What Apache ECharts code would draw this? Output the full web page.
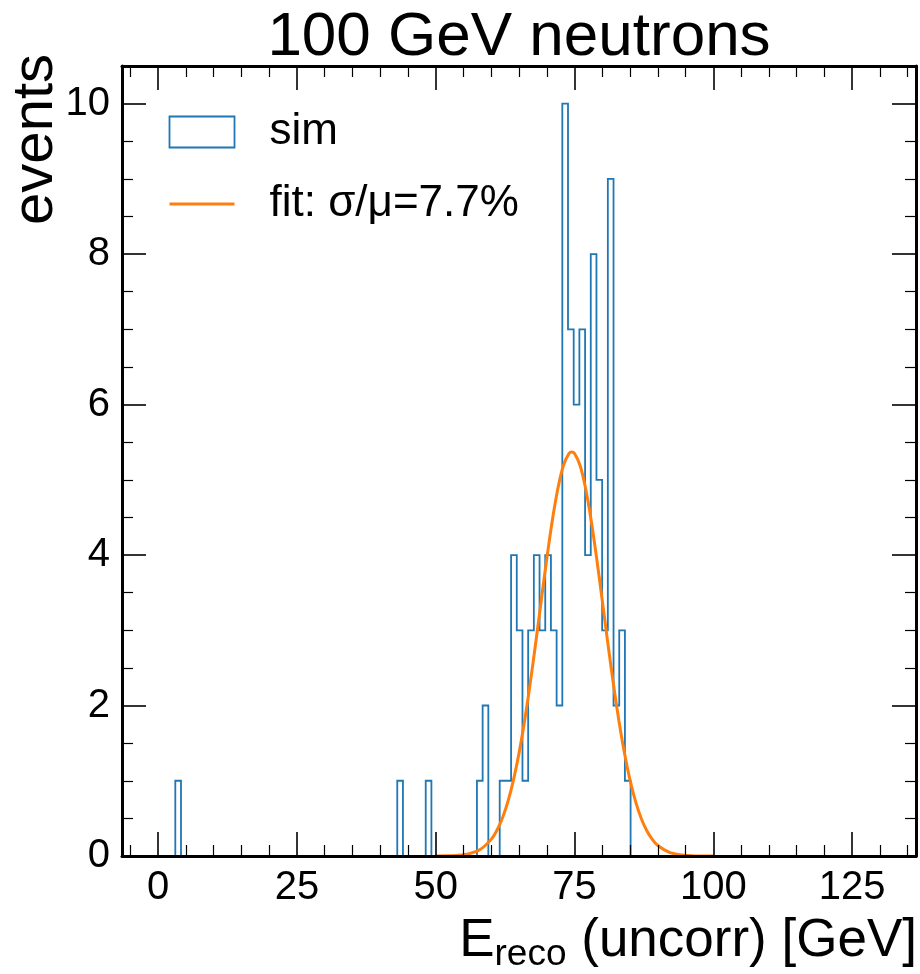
<!DOCTYPE html>
<html>
<head>
<meta charset="utf-8">
<script src="https://cdn.jsdelivr.net/npm/echarts@6/dist/echarts.min.js"></script>
<style>
  html, body { margin: 0; padding: 0; background: #fff; }
  #chart { width: 920px; height: 974px; }
</style>
</head>
<body>
<div id="chart"></div>
<script>
// ---- histogram of reconstructed energy (80 equal-width bins) ----
const binStart = 3.1;
const binWidth = 1.025;
const counts = [
  1, 0, 0, 0, 0, 0, 0, 0, 0, 0,
  0, 0, 0, 0, 0, 0, 0, 0, 0, 0,
  0, 0, 0, 0, 0, 0, 0, 0, 0, 0,
  0, 0, 0, 0, 0, 0, 0, 0, 0, 1,
  0, 0, 0, 0, 1, 0, 0, 0, 0, 0,
  0, 0, 0, 1, 2, 0, 0, 1, 1, 4,
  3, 1, 3, 4, 3, 4, 3, 2, 10, 7,
  6, 7, 4, 8, 5, 3, 9, 2, 3, 1
];

// ---- gaussian fit curve, sampled ----
const fitX = [50, 52, 54, 56, 58, 60, 61, 62, 63, 64, 65, 66, 67, 68, 69, 70, 71, 72, 73, 74, 74.5,
              75, 76, 77, 78, 79, 80, 81, 82, 83, 84, 85, 86, 87, 88, 89, 90, 92, 94, 96, 98, 100];
const fitY = [0.000, 0.002, 0.009, 0.030, 0.086, 0.221, 0.338, 0.502, 0.722, 1.008, 1.365, 1.794, 2.287,
              2.828, 3.393, 3.949, 4.459, 4.884, 5.190, 5.350, 5.370,
              5.350, 5.190, 4.884, 4.459, 3.949, 3.393, 2.828, 2.287, 1.794, 1.365, 1.008, 0.722, 0.502,
              0.338, 0.221, 0.140, 0.052, 0.017, 0.005, 0.001, 0.000];

// ---- axes ----
const xRange = [-6.5, 136.5];
const yRange = [0, 10.5];
const xMajorTicks = [0, 25, 50, 75, 100, 125];
const yMajorTicks = [0, 2, 4, 6, 8, 10];
const xMinorStep = 5;
const yMinorStep = 0.5;

const titleText = '100 GeV neutrons';
const yLabelText = 'events';
const legendNames = ['sim', 'fit: σ/μ=7.7%'];

const FONT = '"Liberation Sans", Arial, Helvetica, sans-serif';
const BLUE = '#1f77b4';
const ORANGE = '#ff7f0e';

// minor tick positions between the labelled ones
function minorValues(range, step, majors) {
  const out = [];
  const start = Math.ceil(range[0] / step) * step;
  for (let v = start; v <= range[1] + 1e-9; v += step) {
    const r = Math.round(v * 1000) / 1000;
    if (!majors.some(m => Math.abs(m - r) < 1e-6)) out.push(r);
  }
  return out;
}
const xMinorTicks = minorValues(xRange, xMinorStep, xMajorTicks);
const yMinorTicks = minorValues(yRange, yMinorStep, yMajorTicks);

// step outline of the histogram (matplotlib "step" style)
const histPath = [];
histPath.push([binStart, 0]);
counts.forEach((c, i) => {
  const lo = binStart + i * binWidth;
  const hi = binStart + (i + 1) * binWidth;
  histPath.push([lo, c]);
  histPath.push([hi, c]);
});
histPath.push([binStart + counts.length * binWidth, 0]);

const fitData = fitX.map((x, i) => [x, fitY[i]]);

function makeAxis(position, range, ticks, tickLen, withLine, withLabels) {
  return {
    type: 'value',
    position: position,
    min: range[0],
    max: range[1],
    z: 10,
    axisLine: { show: withLine, onZero: false, lineStyle: { color: '#000', width: 3 } },
    axisTick: {
      show: true, inside: true, length: tickLen,
      customValues: ticks,
      lineStyle: { color: '#000', width: tickLen > 15 ? 1.6 : 1.2 }
    },
    axisLabel: withLabels ? {
      show: true, customValues: ticks, color: '#000',
      fontFamily: FONT, fontSize: 40, margin: 12
    } : { show: false },
    splitLine: { show: false },
    minorTick: { show: false }
  };
}

const chart = echarts.init(document.getElementById('chart'), null, { renderer: 'canvas' });

chart.setOption({
  backgroundColor: '#fff',
  animation: false,
  grid: { left: 122, right: 4, top: 66, bottom: 118 },
  xAxis: [
    makeAxis('bottom', xRange, xMajorTicks, 24, true, true),
    makeAxis('bottom', xRange, xMinorTicks, 11, false, false),
    makeAxis('top', xRange, xMajorTicks, 24, true, false),
    makeAxis('top', xRange, xMinorTicks, 11, false, false)
  ],
  yAxis: [
    makeAxis('left', yRange, yMajorTicks, 24, true, true),
    makeAxis('left', yRange, yMinorTicks, 11, false, false),
    makeAxis('right', yRange, yMajorTicks, 24, true, false),
    makeAxis('right', yRange, yMinorTicks, 11, false, false)
  ],
  legend: {
    orient: 'vertical',
    left: 168,
    top: 108,
    padding: 0,
    itemWidth: 65,
    itemHeight: 31,
    itemGap: 24,
    textStyle: { fontFamily: FONT, fontSize: 44, color: '#000', lineHeight: 48, padding: [0, 0, 0, 30] },
    data: [
      { name: legendNames[0], icon: 'rect',
        itemStyle: { color: 'rgba(255,255,255,0)', borderColor: BLUE, borderWidth: 1.8 } },
      { name: legendNames[1],
        itemStyle: { opacity: 0 },
        lineStyle: { color: ORANGE, width: 3 } }
    ]
  },
  series: [
    {
      name: legendNames[0],
      type: 'line',
      xAxisIndex: 0, yAxisIndex: 0,
      data: histPath,
      symbol: 'none',
      lineStyle: { color: BLUE, width: 1.8, join: 'miter' },
      itemStyle: { color: BLUE },
      clip: true,
      z: 2
    },
    {
      name: legendNames[1],
      type: 'line',
      xAxisIndex: 0, yAxisIndex: 0,
      data: fitData,
      smooth: 0.3,
      symbol: 'none',
      lineStyle: { color: ORANGE, width: 3 },
      itemStyle: { color: ORANGE },
      clip: true,
      z: 3
    }
  ],
  graphic: [
    {
      type: 'text', x: 519, y: 38,
      style: { text: titleText, fontFamily: FONT, fontSize: 62, fill: '#000', align: 'center', verticalAlign: 'middle' }
    },
    {
      type: 'text', x: 36, y: 54, rotation: Math.PI / 2,
      style: { text: yLabelText, fontFamily: FONT, fontSize: 58, fill: '#000', align: 'right', verticalAlign: 'middle' }
    },
    {
      type: 'text', x: 917, y: 973,
      style: {
        text: '{m|E}{s|reco}{m| (uncorr) [GeV]}',
        align: 'right', verticalAlign: 'bottom',
        rich: {
          m: { fontFamily: FONT, fontSize: 53, fill: '#000', lineHeight: 64, verticalAlign: 'middle' },
          s: { fontFamily: FONT, fontSize: 37, fill: '#000', lineHeight: 38, verticalAlign: 'bottom' }
        }
      }
    }
  ]
});
</script>
</body>
</html>
